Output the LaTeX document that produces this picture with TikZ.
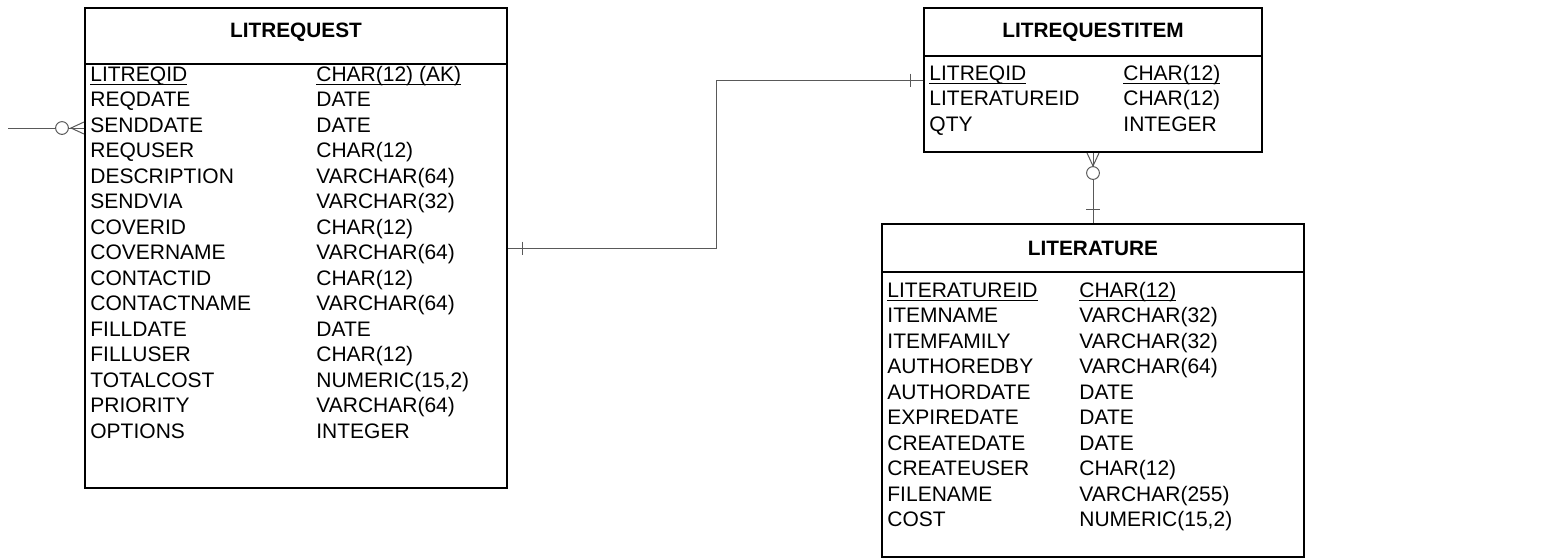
\documentclass[tikz,border=0pt]{standalone}
\usepackage{fontspec}
\setmainfont{Liberation Sans}
\usetikzlibrary{positioning}
\newcommand{\pkey}[1]{\underline{\smash{#1}}}
\tikzset{
  entity/.style={draw,line width=1pt,rectangle,inner sep=0pt},
  title/.style={font=\fontsize{10.4}{12.75}\selectfont\bfseries,inner sep=0pt},
  fields/.style={font=\fontsize{10.5}{12.75}\selectfont,inner sep=0pt,anchor=north west},
  rel/.style={draw=black!65,line width=0.5pt},
  zero/.style={circle,draw=black!65,line width=0.5pt,fill=white,inner sep=0pt,minimum size=6.4pt}
}
\begin{document}
\begin{tikzpicture}[x=0.5pt,y=-0.5pt]
\useasboundingbox (0,0) rectangle (1551,559);
% tables
\node[entity,minimum width=211pt,minimum height=240pt] (litreq) at (296,248) {};
\node[entity,minimum width=169pt,minimum height=72pt] (litreqitem) at (1093,80) {};
\node[entity,minimum width=211pt,minimum height=166.5pt] (literature) at (1093,390.5) {};
\node[title] (litreq-t) at (litreq.north |- 0,32) {LITREQUEST};
\node[title] (litreqitem-t) at (litreqitem.north |- 0,32) {LITREQUESTITEM};
\node[title] (literature-t) at (literature.north |- 0,248) {LITERATURE};
\draw[line width=1pt] (litreq.west |- 0,64) -- (litreq.east |- 0,64);
\draw[line width=1pt] (litreqitem.west |- 0,56) -- (litreqitem.east |- 0,56);
\draw[line width=1pt] (literature.west |- 0,272) -- (literature.east |- 0,272);
\node[fields] (litreq-f) at (90,63) {\begin{tabular}{@{}p{113pt}@{}l@{}}
\pkey{LITREQID} & \pkey{CHAR(12) (AK)}\\
REQDATE & DATE\\
SENDDATE & DATE\\
REQUSER & CHAR(12)\\
DESCRIPTION & VARCHAR(64)\\
SENDVIA & VARCHAR(32)\\
COVERID & CHAR(12)\\
COVERNAME & VARCHAR(64)\\
CONTACTID & CHAR(12)\\
CONTACTNAME & VARCHAR(64)\\
FILLDATE & DATE\\
FILLUSER & CHAR(12)\\
TOTALCOST & NUMERIC(15,2)\\
PRIORITY & VARCHAR(64)\\
OPTIONS & INTEGER
\end{tabular}};
\node[fields] (litreqitem-f) at (929,62) {\begin{tabular}{@{}p{97pt}@{}l@{}}
\pkey{LITREQID} & \pkey{CHAR(12)}\\
LITERATUREID & CHAR(12)\\
QTY & INTEGER
\end{tabular}};
\node[fields] (literature-f) at (887,279) {\begin{tabular}{@{}p{96pt}@{}l@{}}
\pkey{LITERATUREID} & \pkey{CHAR(12)}\\
ITEMNAME & VARCHAR(32)\\
ITEMFAMILY & VARCHAR(32)\\
AUTHOREDBY & VARCHAR(64)\\
AUTHORDATE & DATE\\
EXPIREDATE & DATE\\
CREATEDATE & DATE\\
CREATEUSER & CHAR(12)\\
FILENAME & VARCHAR(255)\\
COST & NUMERIC(15,2)
\end{tabular}};
% relationships
\coordinate (ext) at (8,128);
\draw[rel] (ext) -- (litreq.west |- ext);
\draw[rel] ([yshift=3pt]litreq.west |- ext) -- ([xshift=-6.5pt]litreq.west |- ext) -- ([yshift=-3pt]litreq.west |- ext);
\node[zero] (ext-o) at ([xshift=-11pt]litreq.west |- ext) {};
\coordinate (bend) at (716,248);
\draw[rel] (litreq.east |- bend) -- (bend) |- (litreqitem.west |- 0,80);
\draw[rel] ([xshift=7pt,yshift=3.25pt]litreq.east |- bend) -- ([xshift=7pt,yshift=-3.25pt]litreq.east |- bend);
\draw[rel] ([xshift=-6.5pt,yshift=3.25pt]litreqitem.west |- 0,80) -- ([xshift=-6.5pt,yshift=-3.25pt]litreqitem.west |- 0,80);
\draw[rel] (litreqitem.south) -- (literature.north);
\draw[rel] ([xshift=-3pt]litreqitem.south) -- ([yshift=-6.5pt]litreqitem.south) -- ([xshift=3pt]litreqitem.south);
\node[zero] (item-o) at ([yshift=-10pt]litreqitem.south) {};
\draw[rel] ([xshift=-3.5pt,yshift=7pt]literature.north) -- ([xshift=3.5pt,yshift=7pt]literature.north);
\end{tikzpicture}
\end{document}
